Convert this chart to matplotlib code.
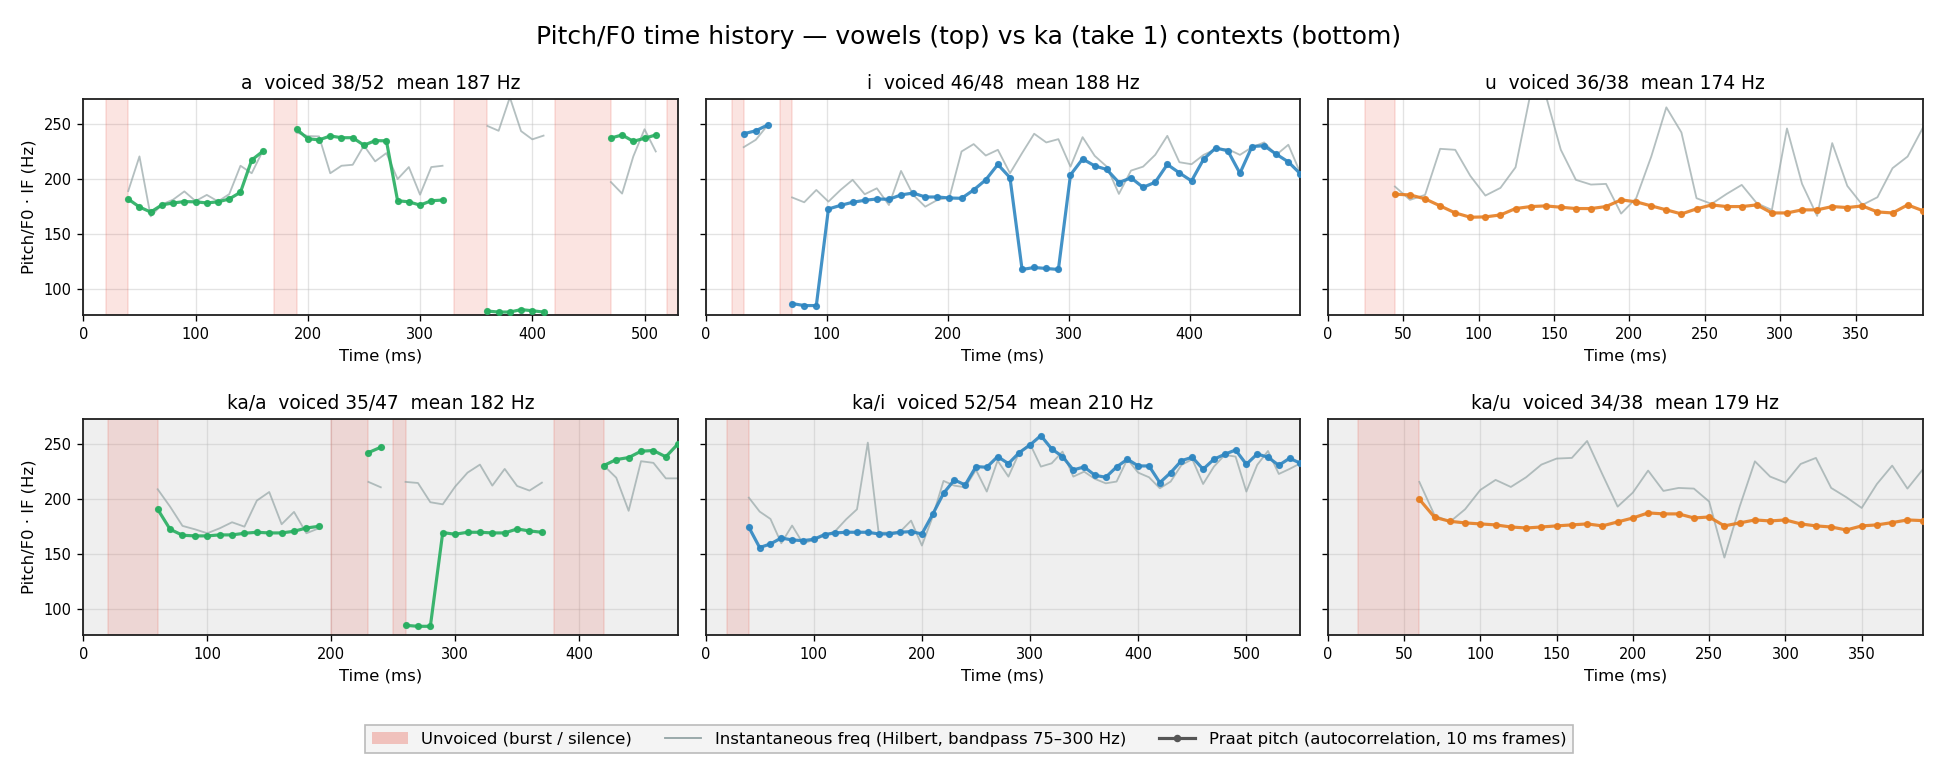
import numpy as np
import matplotlib
matplotlib.use("Agg")
import matplotlib.pyplot as plt
from matplotlib.patches import Patch
from matplotlib.lines import Line2D

nan = np.nan

# ---------------- data (10 ms frames) ----------------
names = ["a", "i", "u", "ka/a", "ka/i", "ka/u"]
means = [187, 188, 174, 182, 210, 179]
first_frame = [20.0, 21.5, 24.5, 20.0, 20.0, 20.0]
frame_step = 10.0
colors = ["#27ae60", "#2e86c1", "#e67e22", "#27ae60", "#2e86c1", "#e67e22"]

pitch_a = [nan, nan,
           181.5, 174.3, 169.7, 176.2, 178.0, 179.2, 179.0, 178.0, 179.0, 181.6, 187.7, 217.0, 225.0,
           nan, nan,
           245.0, 236.4, 235.3, 238.9, 237.3, 237.3, 230.5, 234.6, 234.5, 180.0, 179.0, 176.0, 180.0, 180.6,
           nan, nan, nan,
           79.7, 78.8, 78.8, 81.0, 80.0, 78.8,
           nan, nan, nan, nan, nan,
           237.0, 239.8, 234.0, 236.8, 239.8,
           nan, nan]
if_a = [nan, nan,
        188.8, 220.3, 165.8, 176.6, 181.0, 188.5, 179.7, 185.3, 179.4, 186.0, 211.8, 205.0, 225.6,
        nan, nan,
        242.0, 238.8, 238.5, 205.0, 211.8, 212.7, 230.2, 215.8, 223.3, 199.7, 210.6, 185.5, 210.6, 211.8,
        nan, nan, nan,
        248.0, 243.6, 274.0, 243.3, 235.8, 239.2,
        nan, nan, nan, nan, nan,
        197.0, 186.5, 220.3, 245.0, 224.8,
        nan, nan]

pitch_i = [nan, 240.9, 243.6, 249.0, nan,
           86.5, 84.7, 84.7,
           172.5, 175.8, 178.6, 180.4, 181.6, 181.3, 185.3, 187.0, 183.4, 183.4,
           182.5, 182.2, 189.8, 199.0, 213.0, 201.0, 117.5, 119.3, 118.4, 117.5,
           203.5, 218.0, 211.7, 208.4, 196.5, 200.8, 192.2, 196.8, 213.0, 205.3,
           198.0, 217.8, 228.0, 225.4, 205.0, 229.3, 230.0, 222.3, 215.3, 204.4]
if_i = [nan, 228.7, 235.4, 249.0, nan,
        183.0, 178.6, 189.8,
        179.2, 189.8, 199.0, 185.9, 191.3, 176.1, 207.1, 185.3, 174.6, 180.7,
        183.1, 224.8, 231.5, 221.1, 226.3, 205.0, 223.3, 240.9, 233.0, 236.0,
        211.0, 237.8, 220.8, 211.0, 186.2, 207.4, 211.0, 221.7, 239.0, 215.0,
        213.2, 221.7, 226.9, 226.9, 221.7, 228.7, 233.0, 221.7, 230.9, 205.0]

pitch_u = [nan, nan,
           185.9, 185.3, 181.7, 175.3, 168.9, 165.0, 165.3, 167.1, 172.9, 174.7,
           175.3, 174.1, 172.9, 172.9, 174.7, 180.8, 179.0, 175.3, 171.7, 168.0,
           172.6, 176.2, 174.7, 174.7, 176.2, 168.9, 168.9, 171.7, 171.7, 174.7,
           173.8, 175.3, 169.8, 168.9, 176.2, 171.0]
if_u = [nan, nan,
        192.9, 180.8, 185.3, 227.2, 226.3, 202.6, 184.7, 191.7, 210.4, 278.0,
        276.0, 226.4, 199.0, 194.7, 195.3, 168.3, 182.3, 220.2, 264.9, 242.1,
        182.3, 177.1, 186.2, 194.4, 177.7, 171.6, 245.7, 195.3, 166.2, 232.4,
        193.5, 176.2, 183.2, 209.6, 220.2, 246.0]

pitch_ka_a = [nan, nan, nan, nan,
              190.3, 172.1, 166.7, 166.1, 166.1, 167.0, 167.0, 168.5, 169.4, 168.8, 168.8, 170.3, 173.3, 174.8,
              nan, nan, nan,
              241.8, 246.7,
              nan,
              84.8, 83.9, 83.9, 169.1, 167.6, 169.4, 169.4, 168.8, 168.8, 172.4, 170.6, 169.4,
              nan, nan, nan, nan,
              230.1, 235.5, 237.3, 243.1, 243.7, 238.0, 250.0]
if_ka_a = [nan, nan, nan, nan,
           208.5, 192.7, 175.2, 172.1, 168.5, 173.0, 178.5, 174.5, 198.2, 206.0, 176.7, 187.9, 168.5, 173.0,
           nan, nan, nan,
           215.2, 210.3,
           nan,
           215.2, 214.2, 196.7, 194.8, 210.9, 223.6, 230.9, 211.8, 227.0, 211.5, 207.3, 214.5,
           nan, nan, nan, nan,
           230.0, 219.0, 188.9, 234.0, 232.5, 218.4, 218.4]

pitch_ka_i = [nan, nan,
              174.0, 155.5, 158.8, 164.2, 162.4, 161.8, 163.0, 167.3, 168.8, 169.4,
              169.4, 169.4, 167.9, 167.9, 169.4, 170.0, 167.9, 185.8, 204.8, 217.0,
              212.4, 229.1, 228.5, 238.2, 231.8, 241.8, 248.8, 257.3, 245.2, 238.2,
              226.1, 228.8, 221.2, 219.4, 228.8, 235.8, 229.7, 229.7, 214.5, 223.6,
              234.5, 237.6, 226.7, 235.8, 240.3, 244.2, 231.2, 240.6, 237.6, 230.3,
              236.7, 232.1]
if_ka_i = [nan, nan,
           200.9, 188.2, 181.5, 159.4, 175.5, 159.4, 162.4, 166.4, 170.6, 181.2,
           190.3, 250.9, 169.1, 169.1, 170.0, 180.0, 157.3, 183.6, 216.1, 211.8,
           210.3, 226.1, 206.4, 234.5, 220.0, 241.8, 249.7, 229.1, 232.1, 242.7,
           220.0, 224.5, 217.9, 213.9, 215.5, 235.8, 223.6, 219.4, 209.4, 215.5,
           230.6, 235.8, 213.3, 229.1, 239.7, 238.2, 206.4, 230.6, 243.3, 222.4,
           227.0, 232.1]

pitch_ka_u = [nan, nan, nan, nan,
              199.4, 183.0, 179.4, 177.9, 177.0, 176.1, 174.2, 173.3, 174.2, 175.2,
              176.1, 177.0, 175.2, 178.8, 182.4, 187.0, 186.1, 186.1, 182.4, 183.3,
              175.2, 177.9, 180.6, 179.7, 180.6, 177.0, 175.2, 174.2, 171.5, 175.2,
              176.1, 178.2, 180.6, 180.0]
if_ka_u = [nan, nan, nan, nan,
           215.2, 184.8, 178.8, 190.3, 207.9, 217.0, 210.6, 219.4, 230.9, 236.4,
           237.0, 252.4, 222.1, 192.7, 205.5, 225.5, 207.0, 209.7, 209.1, 197.3,
           146.4, 192.7, 233.9, 220.0, 214.5, 231.5, 237.0, 209.7, 201.2, 191.5,
           213.3, 230.0, 209.1, 226.4]

pitch_series = [pitch_a, pitch_i, pitch_u, pitch_ka_a, pitch_ka_i, pitch_ka_u]
if_series = [if_a, if_i, if_u, if_ka_a, if_ka_i, if_ka_u]

# ---------------- figure ----------------
plt.rcParams["font.family"] = ["DejaVu Sans"]
fig, axes = plt.subplots(2, 3, figsize=(16.15, 6.425), dpi=120, sharey=True)
fig.subplots_adjust(left=0.043, right=0.9921, top=0.8716, bottom=0.1764,
                    wspace=0.046, hspace=0.48)

span_color = "#e74c3c"
if_color = "#95a5a6"

for k, ax in enumerate(axes.flat):
    p = np.array(pitch_series[k], dtype=float)
    f = np.array(if_series[k], dtype=float)
    n = len(p)
    t = first_frame[k] + frame_step * np.arange(n)
    bottom_row = k >= 3
    if bottom_row:
        ax.set_facecolor("#efefef")

    # unvoiced spans: contiguous runs of unvoiced frames
    unv = np.isnan(p)
    i = 0
    while i < n:
        if unv[i]:
            j = i
            while j + 1 < n and unv[j + 1]:
                j += 1
            ax.axvspan(t[i], t[j] + frame_step, facecolor=span_color, alpha=0.15,
                       edgecolor=span_color, linewidth=1.0, zorder=1)
            i = j + 1
        else:
            i += 1

    ax.plot(t, f, color=if_color, lw=1.1, alpha=0.7, zorder=2)
    ax.plot(t, p, color=colors[k], lw=1.9, marker="o", ms=3.3, alpha=0.9, zorder=3)

    voiced = int(np.sum(~unv))
    ax.set_title(f"{names[k]}  voiced {voiced}/{n}  mean {means[k]} Hz", fontsize=11.2)
    ax.set_xlim(0, t[-1])
    ax.set_ylim(76, 272.5)
    ax.set_yticks([100, 150, 200, 250])
    ax.set_xlabel("Time (ms)", fontsize=9.9)
    ax.grid(True, color="#bbbbbb", alpha=0.4, lw=0.8)
    ax.set_axisbelow(True)
    ax.tick_params(labelsize=8.8)
    for s in ax.spines.values():
        s.set_color("#222222")
        s.set_linewidth(1.1)
    if k % 3 == 0:
        ax.set_ylabel("Pitch/F0 · IF (Hz)", fontsize=9.9)

fig.suptitle("Pitch/F0 time history — vowels (top) vs ka (take 1) contexts (bottom)",
             fontsize=15, y=0.968)

handles = [
    Patch(facecolor=span_color, alpha=0.3, edgecolor="none", label="Unvoiced (burst / silence)"),
    Line2D([0], [0], color=if_color, lw=1.1, label="Instantaneous freq (Hilbert, bandpass 75–300 Hz)"),
    Line2D([0], [0], color="#555555", lw=1.9, marker="o", ms=3.5,
           label="Praat pitch (autocorrelation, 10 ms frames)"),
]
leg = fig.legend(handles=handles, loc="center", bbox_to_anchor=(0.5, 0.041), ncol=3,
                 fontsize=9.9, frameon=True, fancybox=False, framealpha=1.0,
                 handlelength=2.2, columnspacing=2.0)
leg.get_frame().set_facecolor("#f4f4f4")
leg.get_frame().set_edgecolor("#bbbbbb")

fig.savefig("out.png", dpi=120)
